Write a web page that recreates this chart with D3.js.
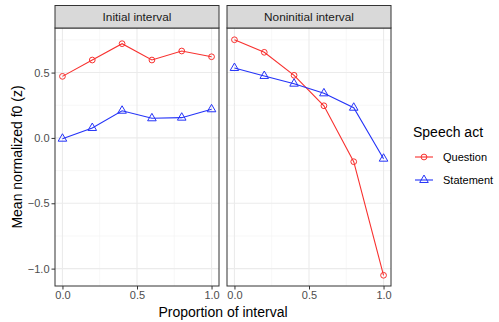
<!DOCTYPE html>
<html><head><meta charset="utf-8">
<script src="https://cdn.jsdelivr.net/npm/d3@7"></script>
<style>body{margin:0;background:#fff}svg{display:block}text{font-family:"Liberation Sans",Arial,sans-serif}</style>
</head><body><svg id="c" width="499" height="322"></svg>
<script>
const panels = ["Initial interval", "Noninitial interval"];
const proportions = [0, 0.2, 0.4, 0.6, 0.8, 1.0];
const seriesNames = ["Question", "Statement"];
const initialQuestion = [0.471, 0.596, 0.721, 0.596, 0.665, 0.621];
const initialStatement = [-0.006, 0.076, 0.208, 0.150, 0.155, 0.219];
const noninitialQuestion = [0.751, 0.655, 0.479, 0.246, -0.182, -1.051];
const noninitialStatement = [0.535, 0.474, 0.415, 0.341, 0.231, -0.159];
const xTicks = [0, 0.5, 1.0];
const xMinor = [0.25, 0.75];
const yTicks = [-1.0, -0.5, 0.0, 0.5];
const yMinor = [-0.75, -0.25, 0.25, 0.75];
const colors = ["#F8312F", "#2433F8"];

const data = [
  [initialQuestion, initialStatement],
  [noninitialQuestion, noninitialStatement]
];

const svg = d3.select("#c");
const pTop = 28, pBottom = 286, stripTop = 5.5;
const panelX = [[55, 219], [227, 391]];
const y = d3.scaleLinear().domain([-1.133, 0.841]).range([pBottom, pTop]);

panels.forEach((name, i) => {
  const [x0, x1] = panelX[i];
  const x = d3.scaleLinear().domain([-0.05, 1.05]).range([x0, x1]);
  const g = svg.append("g");
  // grid
  g.selectAll(".ym").data(yMinor).join("line")
    .attr("x1", x0).attr("x2", x1).attr("y1", d => y(d)).attr("y2", d => y(d))
    .attr("stroke", "#f2f2f2").attr("stroke-width", 0.6);
  g.selectAll(".xm").data(xMinor).join("line")
    .attr("y1", pTop).attr("y2", pBottom).attr("x1", d => x(d)).attr("x2", d => x(d))
    .attr("stroke", "#f2f2f2").attr("stroke-width", 0.6);
  g.selectAll(".yM").data(yTicks).join("line")
    .attr("x1", x0).attr("x2", x1).attr("y1", d => y(d)).attr("y2", d => y(d))
    .attr("stroke", "#ebebeb").attr("stroke-width", 1.1);
  g.selectAll(".xM").data(xTicks).join("line")
    .attr("y1", pTop).attr("y2", pBottom).attr("x1", d => x(d)).attr("x2", d => x(d))
    .attr("stroke", "#ebebeb").attr("stroke-width", 1.1);

  // series
  data[i].forEach((vals, s) => {
    const pts = proportions.map((p, k) => [x(p), y(vals[k])]);
    g.append("path").attr("d", d3.line()(pts)).attr("fill", "none")
      .attr("stroke", colors[s]).attr("stroke-width", 1.1);
    const sym = d3.symbol().type(s === 0 ? d3.symbolCircle : d3.symbolTriangle).size(s === 0 ? 26 : 32);
    g.selectAll(null).data(pts).join("path")
      .attr("transform", d => `translate(${d[0]},${d[1]})`)
      .attr("d", sym()).attr("fill", "none").attr("stroke", colors[s]).attr("stroke-width", 1);
  });

  // panel border
  g.append("rect").attr("x", x0).attr("y", pTop).attr("width", x1 - x0).attr("height", pBottom - pTop)
    .attr("fill", "none").attr("stroke", "#333").attr("stroke-width", 1);
  // strip
  g.append("rect").attr("x", x0).attr("y", stripTop).attr("width", x1 - x0).attr("height", pTop - stripTop)
    .attr("fill", "#d9d9d9").attr("stroke", "#333").attr("stroke-width", 1);
  g.append("text").attr("x", (x0 + x1) / 2).attr("y", (stripTop + pTop) / 2 + 4)
    .attr("text-anchor", "middle").attr("font-size", 11.8).attr("fill", "#1a1a1a").text(name);

  // x axis
  const xa = svg.append("g").attr("transform", `translate(0,${pBottom})`)
    .call(d3.axisBottom(x).tickValues(xTicks).tickFormat(d3.format(".1f")).tickSize(3.5).tickPadding(2));
  xa.select(".domain").remove();
  xa.selectAll("line").attr("stroke", "#333");
  xa.selectAll("text").attr("fill", "#4d4d4d").attr("font-size", 11).attr("font-family", '"Liberation Sans",Arial,sans-serif');
});

// y axis
const ya = svg.append("g").attr("transform", `translate(${panelX[0][0]},0)`)
  .call(d3.axisLeft(y).tickValues(yTicks).tickFormat(d3.format(".1f")).tickSize(3.5).tickPadding(2));
ya.select(".domain").remove();
ya.selectAll("line").attr("stroke", "#333");
ya.selectAll("text").attr("fill", "#4d4d4d").attr("font-size", 11).attr("font-family", '"Liberation Sans",Arial,sans-serif');

// titles
svg.append("text").attr("x", (panelX[0][0] + panelX[1][1]) / 2).attr("y", 317)
  .attr("text-anchor", "middle").attr("font-size", 14).attr("fill", "#000").text("Proportion of interval");
svg.append("text").attr("transform", `translate(22,${(pTop + pBottom) / 2}) rotate(-90)`)
  .attr("text-anchor", "middle").attr("font-size", 14).attr("fill", "#000").text("Mean normalized f0 (z)");

// legend
svg.append("text").attr("x", 413).attr("y", 137).attr("font-size", 14).attr("fill", "#000").text("Speech act");
seriesNames.forEach((n, s) => {
  const cy = 157 + s * 23;
  svg.append("line").attr("x1", 415).attr("x2", 433).attr("y1", cy).attr("y2", cy)
    .attr("stroke", colors[s]).attr("stroke-width", 1.1);
  const sym = d3.symbol().type(s === 0 ? d3.symbolCircle : d3.symbolTriangle).size(s === 0 ? 26 : 32);
  svg.append("path").attr("transform", `translate(424,${cy})`).attr("d", sym())
    .attr("fill", "none").attr("stroke", colors[s]).attr("stroke-width", 1);
  svg.append("text").attr("x", 443).attr("y", cy + 4).attr("font-size", 11).attr("fill", "#000").text(n);
});
</script></body></html>
